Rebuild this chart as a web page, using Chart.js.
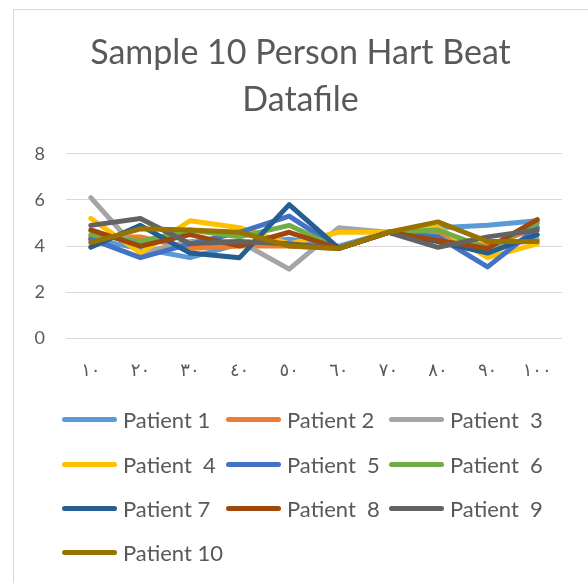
<!DOCTYPE html>
<html>
<head>
<meta charset="utf-8">
<script src="https://cdn.jsdelivr.net/npm/chart.js@4.4.1/dist/chart.umd.min.js"></script>
<style>
  html, body { margin: 0; padding: 0; background: #fff; }
  #wrap { position: relative; width: 588px; height: 583px; overflow: hidden; }
  #frame { position: absolute; left: 13px; top: 9px; right: -5px; bottom: -5px;
           border-left: 1px solid #d9d9d9; border-top: 1px solid #d9d9d9; }
  #myChart { position: absolute; left: 0; top: 0; }
  #legend { position: absolute; left: 0; top: 0; font-family: Lato, "Open Sans", sans-serif;
            font-size: 22px; color: #595959; }
  .item { position: absolute; height: 26px; display: flex; align-items: center; white-space: pre; }
  .swatch { width: 55px; height: 5px; border-radius: 3px; margin-right: 6px; }
</style>
</head>
<body>
<div id="wrap">
  <div id="frame"></div>
  <canvas id="myChart" width="588" height="583"></canvas>
  <div id="legend"></div>
</div>
<script>
// x categories (arabic-indic digits as in the original)
const labels = ['١٠', '٢٠', '٣٠', '٤٠', '٥٠', '٦٠', '٧٠', '٨٠', '٩٠', '١٠٠'];

const patient1  = [4.3, 3.9, 3.5, 4.1, 4.3, 4.0, 4.6, 4.8, 4.9, 5.1];
const patient2  = [4.4, 4.4, 3.9, 4.0, 4.0, 3.9, 4.6, 4.5, 4.0, 4.8];
const patient3  = [6.1, 3.7, 4.2, 4.2, 3.0, 4.8, 4.6, 4.3, 3.9, 4.3];
const patient4  = [5.2, 3.7, 5.1, 4.8, 4.1, 4.6, 4.6, 4.8, 3.5, 4.1];
const patient5  = [4.3, 3.5, 4.1, 4.6, 5.3, 3.9, 4.6, 4.4, 3.1, 4.8];
const patient6  = [4.5, 4.2, 4.7, 4.4, 4.9, 3.9, 4.6, 4.7, 3.9, 5.0];
const patient7  = [3.95, 4.9, 3.7, 3.5, 5.8, 3.9, 4.6, 4.2, 3.7, 4.5];
const patient8  = [4.7, 4.0, 4.5, 4.0, 4.6, 3.9, 4.6, 4.25, 3.9, 5.15];
const patient9  = [4.9, 5.2, 4.1, 4.2, 4.1, 3.9, 4.6, 3.95, 4.4, 4.7];
const patient10 = [4.15, 4.75, 4.7, 4.6, 4.0, 3.9, 4.6, 5.05, 4.2, 4.2];

const seriesNames = ['Patient 1', 'Patient 2', 'Patient  3', 'Patient  4', 'Patient  5',
                     'Patient  6', 'Patient 7', 'Patient  8', 'Patient  9', 'Patient 10'];
const seriesValues = [patient1, patient2, patient3, patient4, patient5,
                      patient6, patient7, patient8, patient9, patient10];
const colors = ['#5B9BD5', '#ED7D31', '#A5A5A5', '#FFC000', '#4472C4',
                '#70AD47', '#255E91', '#9E480E', '#636363', '#997300'];

const yTicks = [0, 2, 4, 6, 8];

const txt = '#595959';
const fontFam = 'Lato, "Open Sans", "DejaVu Sans", sans-serif';

const datasets = seriesNames.map((name, i) => ({
  label: name,
  data: seriesValues[i],
  borderColor: colors[i],
  backgroundColor: colors[i],
  borderWidth: 5,
  borderJoinStyle: 'round',
  borderCapStyle: 'round',
  pointRadius: 0,
  tension: 0,
  fill: false,
  yAxisID: 'y',
  order: seriesNames.length - i   // later series on top, like excel
}));

const ctx = document.getElementById('myChart').getContext('2d');
const myChart = new Chart(ctx, {
  type: 'line',
  data: { labels: labels, datasets: datasets },
  options: {
    responsive: false,
    animation: false,
    layout: { padding: { left: 13, right: 0, top: 0, bottom: 199 } },
    scales: {
      x: {
        offset: true,
        grid: { display: true, drawOnChartArea: false, drawTicks: true, tickLength: 18,
                color: 'rgba(0,0,0,0)' },
        border: { display: false },
        ticks: { color: txt, padding: 3, font: { family: fontFam, size: 18 } }
      },
      y: {
        min: 0,
        max: 8,
        afterBuildTicks: (axis) => { axis.ticks = yTicks.map(v => ({ value: v })); },
        afterFit: (axis) => { axis.width = 53; },
        grid: { color: '#d9d9d9', lineWidth: 1, drawTicks: false },
        border: { display: false },
        ticks: { color: txt, padding: 21, font: { family: fontFam, size: 18 } }
      },
      // empty right-hand spacer so the plot stops where excel's does
      yRight: {
        position: 'right',
        min: 0,
        max: 8,
        afterFit: (axis) => { axis.width = 26; },
        grid: { display: false, drawTicks: false },
        border: { display: false },
        ticks: { display: false }
      }
    },
    plugins: {
      legend: { display: false },
      tooltip: { enabled: false },
      title: {
        display: true,
        text: ['Sample 10 Person Hart Beat', 'Datafile'],
        color: txt,
        font: { family: fontFam, size: 34, weight: 'normal', lineHeight: 1.38 },
        padding: { top: 30, bottom: 30 }
      }
    }
  }
});

// legend laid out as a 3 column grid like the excel one
const legendEl = document.getElementById('legend');
const colX = [62, 226, 389];
const rowY = [419, 464, 508, 552];
myChart.data.datasets.forEach((ds, i) => {
  const item = document.createElement('div');
  item.className = 'item';
  item.style.left = colX[i % 3] + 'px';
  item.style.top = (rowY[Math.floor(i / 3)] - 13) + 'px';
  const sw = document.createElement('span');
  sw.className = 'swatch';
  sw.style.background = ds.borderColor;
  const t = document.createElement('span');
  t.textContent = ds.label;
  item.appendChild(sw);
  item.appendChild(t);
  legendEl.appendChild(item);
});
</script>
</body>
</html>
